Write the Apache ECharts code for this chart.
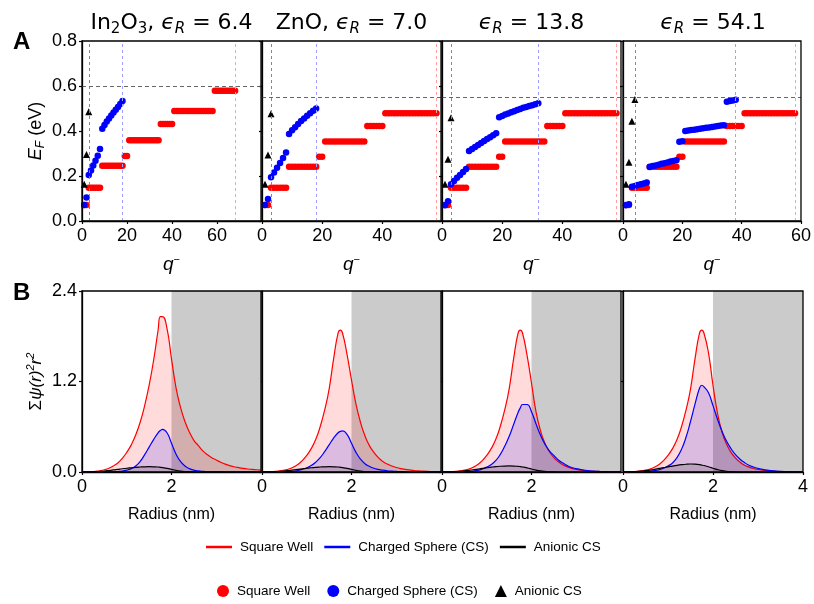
<!DOCTYPE html>
<html><head><meta charset="utf-8">
<script src="https://cdn.jsdelivr.net/npm/echarts@6/dist/echarts.min.js"></script>
<style>html,body{margin:0;padding:0;background:#fff}#c{width:814px;height:604px}</style>
</head><body><div id="c"></div>
<script>
// ---------------- Panel A data (E_F vs q-) ----------------
const materialRich = ['{n|In}{s|2}{n|O}{s|3}{n|, }', '{n|ZnO, }', '', ''];
const epsilonR = ['6.4', '7.0', '13.8', '54.1'];
const qAxisMax = [79.5, 59.5, 59.5, 60];
const efTicks = [0, 0.2, 0.4, 0.6, 0.8];

// Square-well levels: energy of each plateau and the q range it spans
const swLevelQStart = [1, 3, 9, 19, 21, 35, 41, 59];
const swLevelQEnd   = [2, 8, 18, 20, 34, 40, 58, 68];
const swLevels1 = [0.071, 0.148, 0.246, 0.289, 0.359, 0.431, 0.489, 0.579];
const swLevels2 = [0.071, 0.148, 0.241, 0.286, 0.353, 0.422, 0.479];
const swLevels3 = [0.071, 0.148, 0.241, 0.286, 0.353, 0.422, 0.479];
const swLevels4 = [0.071, 0.148, 0.241, 0.286, 0.353, 0.422, 0.479];

// Charged sphere, q = 1, 2, 3 ...
const cs1 = [0.071, 0.104, 0.204, 0.225, 0.247, 0.268, 0.290, 0.320, 0.410, 0.427, 0.442, 0.456, 0.469, 0.482, 0.495, 0.507, 0.520, 0.533];
const cs2 = [0.071, 0.098, 0.195, 0.216, 0.237, 0.258, 0.280, 0.304, 0.387, 0.403, 0.417, 0.431, 0.444, 0.456, 0.468, 0.479, 0.490, 0.500];
const cs3 = [0.070, 0.088, 0.163, 0.178, 0.192, 0.205, 0.218, 0.231, 0.311, 0.320, 0.329, 0.338, 0.347, 0.356, 0.364, 0.372, 0.381, 0.390,
             0.461, 0.467, 0.473, 0.478, 0.483, 0.488, 0.493, 0.498, 0.503, 0.507, 0.511, 0.515, 0.519, 0.523];
const cs4 = [0.070, 0.075, 0.152, 0.156, 0.160, 0.163, 0.167, 0.171, 0.240, 0.244, 0.247, 0.250, 0.254, 0.257, 0.260, 0.264, 0.267, 0.270,
             0.352, 0.354, 0.400, 0.402, 0.404, 0.406, 0.408, 0.410, 0.412, 0.414, 0.416, 0.418, 0.420, 0.422, 0.424, 0.426,
             0.530, 0.533, 0.536, 0.539];
// Anionic charged sphere, q = 1, 2, 3 ...
const an1 = [0.163, 0.296, 0.486];
const an2 = [0.163, 0.293, 0.477];
const an3 = [0.163, 0.274, 0.459];
const an4 = [0.163, 0.261, 0.443, 0.540];

// reference dashed lines
const vLineAnion = [3, 3, 3, 4];
const vLineCS = [18, 18, 32, 38];
const vLineSW = [68, 58, 58, 58];
const hLineEF = [0.6, 0.545, 0.545, 0.545];

// ---------------- Panel B data (radial density) ----------------
const radius = [0,0.1,0.2,0.3,0.4,0.5,0.6,0.7,0.8,0.9,1.0,1.1,1.2,1.3,1.4,1.5,1.6,1.7,1.75,1.8,1.9,2.0,2.1,2.2,2.3,2.4,2.5,2.6,2.7,2.8,2.9,3.0,3.1,3.2,3.3,3.4,3.5,3.6,3.7,3.8,3.9,4.0];
const shellRadius = [2, 2, 2, 2];
const radiusTicks = [0, 2, 4];
const densTicks = [0, 1.2, 2.4];

const swB1 = [0,0.001,0.003,0.008,0.017,0.03,0.05,0.08,0.12,0.18,0.26,0.36,0.49,0.66,0.88,1.15,1.48,1.88,2.06,2.06,1.90,1.50,1.12,0.86,0.67,0.53,0.42,0.35,0.28,0.23,0.19,0.16,0.13,0.105,0.085,0.07,0.058,0.048,0.04,0.034,0.03,0.026];
const csB1 = [0,0,0,0,0,0.001,0.002,0.003,0.006,0.012,0.025,0.045,0.08,0.14,0.23,0.33,0.43,0.52,0.55,0.565,0.52,0.38,0.24,0.14,0.08,0.045,0.025,0.014,0.008,0.005,0.003,0.002,0.001,0,0,0,0,0,0,0,0,0];
const anB1 = [0,0.001,0.002,0.004,0.008,0.013,0.02,0.027,0.035,0.043,0.05,0.056,0.062,0.066,0.069,0.07,0.069,0.066,0.062,0.058,0.048,0.035,0.022,0.012,0.006,0.003,0.001,0,0,0,0,0,0,0,0,0,0,0,0,0,0,0];

const swB2 = [0,0.001,0.003,0.007,0.014,0.025,0.04,0.065,0.1,0.15,0.22,0.31,0.43,0.6,0.82,1.1,1.50,1.84,1.88,1.84,1.56,1.22,0.90,0.66,0.48,0.35,0.26,0.19,0.14,0.105,0.08,0.06,0.045,0.035,0.027,0.02,0.015,0.011,0.008,0.006,0.004,0.003];
const csB2 = [0,0,0,0,0,0.002,0.005,0.01,0.02,0.035,0.055,0.085,0.13,0.19,0.27,0.36,0.45,0.52,0.538,0.545,0.50,0.38,0.26,0.17,0.11,0.075,0.05,0.035,0.024,0.016,0.011,0.008,0.005,0.003,0.002,0.001,0,0,0,0,0,0];
const anB2 = [0,0.001,0.002,0.004,0.008,0.013,0.02,0.027,0.035,0.043,0.05,0.056,0.062,0.066,0.069,0.07,0.069,0.066,0.062,0.058,0.048,0.035,0.022,0.012,0.006,0.003,0.001,0,0,0,0,0,0,0,0,0,0,0,0,0,0,0];

const swB3 = [0,0.001,0.003,0.007,0.014,0.025,0.04,0.065,0.1,0.15,0.22,0.31,0.43,0.6,0.82,1.1,1.50,1.84,1.88,1.84,1.55,1.18,0.80,0.55,0.38,0.27,0.19,0.135,0.095,0.068,0.048,0.035,0.025,0.018,0.013,0.009,0.007,0.005,0.004,0.003,0.002,0.002];
const csB3 = [0,0,0,0,0.001,0.003,0.006,0.012,0.022,0.04,0.065,0.1,0.15,0.23,0.34,0.47,0.63,0.79,0.85,0.895,0.895,0.80,0.64,0.49,0.37,0.28,0.22,0.16,0.12,0.085,0.06,0.045,0.032,0.023,0.016,0.011,0.008,0.005,0.004,0.003,0.002,0.001];
const anB3 = [0,0.001,0.002,0.005,0.009,0.015,0.022,0.03,0.039,0.048,0.056,0.064,0.071,0.076,0.079,0.08,0.079,0.075,0.071,0.066,0.054,0.04,0.025,0.014,0.007,0.003,0.001,0,0,0,0,0,0,0,0,0,0,0,0,0,0,0];

const swB4 = [0,0.001,0.003,0.007,0.014,0.025,0.04,0.065,0.1,0.15,0.22,0.31,0.43,0.6,0.82,1.1,1.50,1.84,1.88,1.84,1.58,1.15,0.78,0.53,0.37,0.26,0.185,0.13,0.09,0.065,0.046,0.033,0.024,0.017,0.012,0.009,0.006,0.005,0.004,0.003,0.002,0.002];
const csB4 = [0,0,0,0,0.002,0.005,0.01,0.018,0.03,0.05,0.08,0.12,0.19,0.3,0.46,0.67,0.9,1.11,1.15,1.13,1.05,0.88,0.70,0.54,0.41,0.31,0.23,0.17,0.125,0.09,0.066,0.048,0.035,0.025,0.018,0.013,0.009,0.006,0.004,0.003,0.002,0.001];
const anB4 = [0,0.001,0.003,0.006,0.011,0.018,0.026,0.036,0.047,0.058,0.068,0.079,0.089,0.097,0.103,0.106,0.104,0.098,0.092,0.086,0.07,0.05,0.032,0.018,0.009,0.004,0.001,0,0,0,0,0,0,0,0,0,0,0,0,0,0,0];

const legendLabels = {lineSW:'Square Well', lineCS:'Charged Sphere (CS)', lineAn:'Anionic CS',
                      dotSW:'Square Well', dotCS:'Charged Sphere (CS)', dotAn:'Anionic CS'};

// ---------------- build chart ----------------
const swLevels = [swLevels1, swLevels2, swLevels3, swLevels4];
const csAll = [cs1, cs2, cs3, cs4];
const anAll = [an1, an2, an3, an4];
const swBAll = [swB1, swB2, swB3, swB4];
const csBAll = [csB1, csB2, csB3, csB4];
const anBAll = [anB1, anB2, anB3, anB4];

const FONT = 'Liberation Sans';
const gridLeft = [82, 262, 442, 623];
const gridWidth = [179, 179, 179, 180];
const RED = '#ff0000', BLUE = '#0000ff', BLACK = '#000000';

const grids = [], xAxes = [], yAxes = [], series = [], graphics = [];

function axisCommon() {
  return {
    axisLine: {show: true, onZero: false, lineStyle: {color: '#000', width: 1.3}},
    axisTick: {show: true, inside: false, length: 3, lineStyle: {color: '#000', width: 1.2}},
    splitLine: {show: false}
  };
}

for (let i = 0; i < 4; i++) {
  const ga = i, gb = i + 4;
  // ---- grid A ----
  grids[ga] = {left: gridLeft[i], top: 41, width: gridWidth[i], height: 180, show: true,
              borderColor: '#000', borderWidth: 1.3, backgroundColor: 'transparent', z: 10};
  xAxes[ga] = Object.assign(axisCommon(), {
    gridIndex: ga, type: 'value', min: 0, max: qAxisMax[i], interval: 20,
    axisLabel: {fontSize: 18, fontFamily: FONT, color: '#000', margin: 6, showMaxLabel: i === 3, showMinLabel: true},
    name: '{i|q}{sup|−}', nameLocation: 'middle', nameGap: 33,
    nameTextStyle: {rich: {
      i: {fontFamily: FONT, fontStyle: 'italic', fontSize: 19, color: '#000', lineHeight: 22},
      sup: {fontFamily: FONT, fontSize: 11, color: '#000', verticalAlign: 'top', lineHeight: 10}
    }}
  });
  yAxes[ga] = Object.assign(axisCommon(), {
    gridIndex: ga, type: 'value', min: efTicks[0], max: efTicks[efTicks.length - 1], interval: efTicks[1] - efTicks[0],
    axisLabel: {show: i === 0, fontSize: 18, fontFamily: FONT, color: '#000', margin: 5, formatter: v => v.toFixed(1)},
    name: i === 0 ? '{i|E}{is|F}{n| (eV)}' : '', nameLocation: 'middle', nameGap: 35,
    nameTextStyle: {rich: {
      i: {fontFamily: FONT, fontStyle: 'italic', fontSize: 18, color: '#000', lineHeight: 22},
      is: {fontFamily: FONT, fontStyle: 'italic', fontSize: 12, color: '#000', verticalAlign: 'bottom', lineHeight: 12},
      n: {fontFamily: FONT, fontSize: 18, color: '#000', lineHeight: 22}
    }}
  });

  const swPts = [];
  swLevels[i].forEach((E, k) => { for (let q = swLevelQStart[k]; q <= swLevelQEnd[k]; q++) swPts.push([q, E]); });
  series.push({
    name: 'dotSW', type: 'scatter', xAxisIndex: ga, yAxisIndex: ga, data: swPts, z: 2,
    symbol: 'circle', symbolSize: 6.5, itemStyle: {color: RED, opacity: 1}, silent: true,
    markLine: {silent: true, symbol: ['none', 'none'], animation: false, label: {show: false},
      data: [
        {xAxis: vLineAnion[i], lineStyle: {color: '#888888', type: [3, 3], width: 1}},
        {xAxis: vLineCS[i], lineStyle: {color: '#a0a0ff', type: [3, 3], width: 1}},
        {xAxis: vLineSW[i], lineStyle: {color: '#ffa0a0', type: [3, 3], width: 1}},
        {yAxis: hLineEF[i], lineStyle: {color: '#666666', type: [4, 3], width: 1}}
      ]}
  });
  series.push({
    name: 'dotCS', type: 'scatter', xAxisIndex: ga, yAxisIndex: ga, z: 3,
    data: csAll[i].map((v, k) => [k + 1, v]),
    symbol: 'circle', symbolSize: 6.5, itemStyle: {color: BLUE, opacity: 1}, silent: true
  });
  series.push({
    name: 'dotAn', type: 'scatter', xAxisIndex: ga, yAxisIndex: ga, z: 4,
    data: anAll[i].map((v, k) => [k + 1, v]),
    symbol: 'triangle', symbolSize: 7, itemStyle: {color: BLACK, opacity: 1}, silent: true
  });

  // ---- grid B ----
  grids[gb] = {left: gridLeft[i], top: 291, width: gridWidth[i], height: 181, show: true,
              borderColor: '#000', borderWidth: 1.3, backgroundColor: 'transparent', z: 10};
  xAxes[gb] = Object.assign(axisCommon(), {
    gridIndex: gb, type: 'value', min: radiusTicks[0], max: radiusTicks[2], interval: radiusTicks[1] - radiusTicks[0],
    axisLabel: {fontSize: 18, fontFamily: FONT, color: '#000', margin: 6, showMaxLabel: i === 3},
    name: 'Radius (nm)', nameLocation: 'middle', nameGap: 35,
    nameTextStyle: {fontFamily: FONT, fontSize: 16, color: '#000'}
  });
  yAxes[gb] = Object.assign(axisCommon(), {
    gridIndex: gb, type: 'value', min: densTicks[0], max: densTicks[2], interval: densTicks[1] - densTicks[0],
    axisLabel: {show: i === 0, fontSize: 18, fontFamily: FONT, color: '#000', margin: 5, formatter: v => v.toFixed(1)},
    name: i === 0 ? '{n|Σ}{i|ψ(r)}{sup|2}{i|r}{sup|2}' : '', nameLocation: 'middle', nameGap: 35,
    nameTextStyle: {rich: {
      n: {fontFamily: FONT, fontSize: 17, color: '#000', lineHeight: 22},
      i: {fontFamily: FONT, fontStyle: 'italic', fontSize: 17, color: '#000', lineHeight: 22},
      sup: {fontFamily: FONT, fontStyle: 'italic', fontSize: 11, color: '#000', verticalAlign: 'top', lineHeight: 10}
    }}
  });

  // shaded region outside the sphere (carried by an invisible series)
  series.push({
    name: 'shade', type: 'line', xAxisIndex: gb, yAxisIndex: gb, z: 1, silent: true,
    data: radius.map(r => [r, 0]), showSymbol: false, symbol: 'none',
    lineStyle: {opacity: 0},
    markArea: {silent: true, animation: false, itemStyle: {color: '#cbcbcb'},
      data: [[{xAxis: shellRadius[i]}, {xAxis: radius[radius.length - 1]}]]}
  });
  const lineDefs = [
    ['lineSW', swBAll[i], RED, 'rgba(255,0,0,0.2)', 2],
    ['lineCS', csBAll[i], BLUE, 'rgba(0,0,255,0.2)', 3],
    ['lineAn', anBAll[i], BLACK, 'rgba(0,0,0,0.2)', 4]
  ];
  lineDefs.forEach(([nm, vals, col, fill, z]) => {
    series.push({
      name: nm, type: 'line', xAxisIndex: gb, yAxisIndex: gb, z: z, silent: true,
      data: radius.map((r, k) => [r, vals[k]]),
      smooth: 0.5, showSymbol: false, symbol: 'none',
      itemStyle: {color: col}, lineStyle: {color: col, width: 1.2},
      areaStyle: {color: fill, origin: 'start'}
    });
  });

  // panel title
  graphics.push({
    type: 'text', x: gridLeft[i] + gridWidth[i] / 2, y: 23, silent: true,
    style: {
      text: materialRich[i] + '{i|ϵ}{is|R}{n| = ' + epsilonR[i] + '}',
      align: 'center', verticalAlign: 'middle', textAlign: 'center', textVerticalAlign: 'middle',
      rich: {
        n: {fontFamily: 'DejaVu Sans', fontSize: 22, fill: '#000', color: '#000', lineHeight: 28},
        s: {fontFamily: 'DejaVu Sans', fontSize: 15, fill: '#000', color: '#000', verticalAlign: 'bottom', lineHeight: 15},
        i: {fontFamily: 'DejaVu Sans', fontStyle: 'italic', fontSize: 22, fill: '#000', color: '#000', lineHeight: 28},
        is: {fontFamily: 'DejaVu Sans', fontStyle: 'italic', fontSize: 15, fill: '#000', color: '#000', verticalAlign: 'bottom', lineHeight: 15}
      }
    }
  });
}

graphics.push({type: 'text', x: 13, y: 42, silent: true,
  style: {text: 'A', font: 'bold 24px "Liberation Sans"', fill: '#000', verticalAlign: 'middle', textVerticalAlign: 'middle'}});
graphics.push({type: 'text', x: 13, y: 293, silent: true,
  style: {text: 'B', font: 'bold 24px "Liberation Sans"', fill: '#000', verticalAlign: 'middle', textVerticalAlign: 'middle'}});

const chart = echarts.init(document.getElementById('c'), null, {renderer: 'canvas'});
chart.setOption({
  animation: false,
  backgroundColor: '#ffffff',
  grid: grids, xAxis: xAxes, yAxis: yAxes, series: series, graphic: graphics,
  legend: [
    {left: 201, top: 535, itemWidth: 26, itemHeight: 2.5, itemGap: 11, selectedMode: false,
     data: [{name: 'lineSW', icon: 'rect'}, {name: 'lineCS', icon: 'rect'}, {name: 'lineAn', icon: 'rect'}],
     formatter: n => legendLabels[n],
     textStyle: {fontFamily: FONT, fontSize: 13.5, color: '#000', padding: [0, 0, 0, 3]}},
    {left: 212, top: 579, itemWidth: 12, itemHeight: 12, itemGap: 17, selectedMode: false,
     data: [{name: 'dotSW', icon: 'circle'}, {name: 'dotCS', icon: 'circle'}, {name: 'dotAn', icon: 'triangle'}],
     formatter: n => legendLabels[n],
     textStyle: {fontFamily: FONT, fontSize: 13.5, color: '#000', padding: [0, 0, 0, 3]}}
  ]
});
</script>
</body></html>
